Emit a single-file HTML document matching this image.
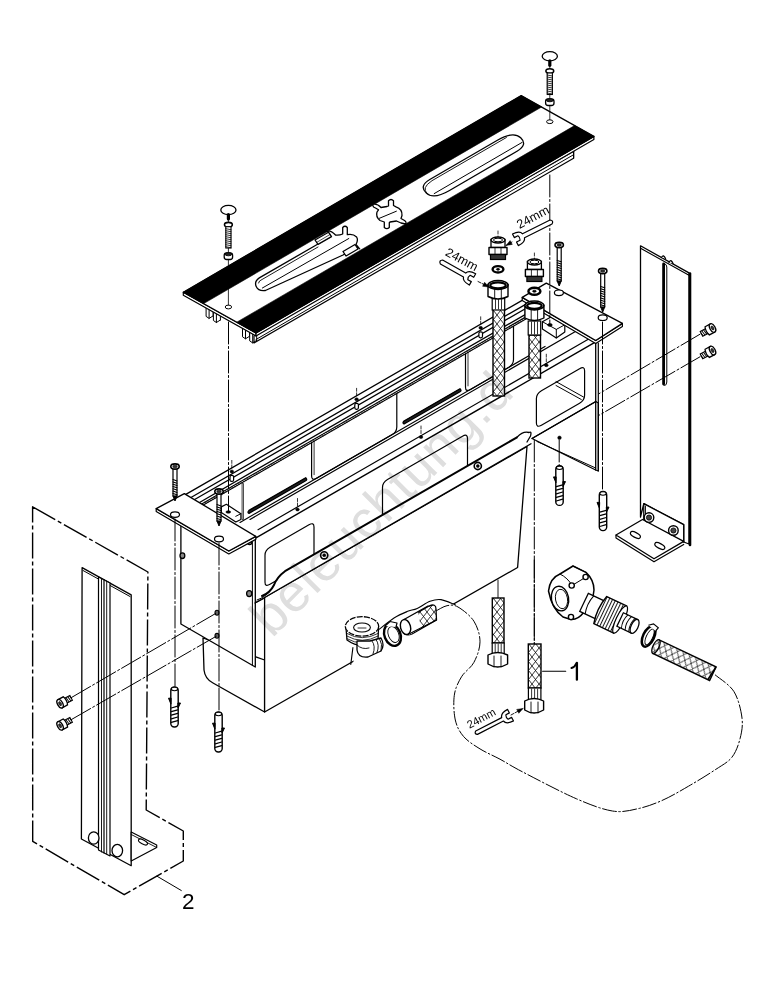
<!DOCTYPE html><html><head><meta charset="utf-8"><style>html,body{margin:0;padding:0;background:#fff;}svg{display:block;}</style></head><body><svg width="777" height="1000" viewBox="0 0 777 1000" font-family="Liberation Sans, sans-serif">
<defs><pattern id="hatch" width="7" height="9" patternUnits="userSpaceOnUse"><rect width="7" height="9" fill="#fff"/><path d="M-0.7,-0.9 L7.7,9.9 M7.7,-0.9 L-0.7,9.9" stroke="#111" stroke-width="0.85"/></pattern><pattern id="vrib" width="3" height="3" patternUnits="userSpaceOnUse"><rect width="3" height="3" fill="#fff"/><path d="M1.5,0 L1.5,3" stroke="#000" stroke-width="0.9"/></pattern></defs>
<rect width="777" height="1000" fill="#fff"/>
<polygon points="32.6,506.8 147.9,572.0 146.2,810.0 183.3,831.0 183.3,861.0 124.2,894.7 32.7,841.4" fill="#fff" stroke="#000" stroke-width="1.4" stroke-linejoin="round" stroke-dasharray="26,3,4,3"/>
<polygon points="82.1,567.6 131.2,594.9 131.2,865.7 81.4,839.0" fill="#fff" stroke="#000" stroke-width="1.3" stroke-linejoin="round" />
<line x1="83.0" y1="570.5" x2="130.0" y2="596.5" stroke="#000" stroke-width="1.0" stroke-linecap="round" />
<polygon points="98.5,577.0 110.0,583.0 110.0,856.0 98.5,850.0" fill="#fff" stroke="#000" stroke-width="1.2" stroke-linejoin="round" />
<line x1="101.5" y1="579.0" x2="101.5" y2="852.0" stroke="#000" stroke-width="0.9" stroke-linecap="round" />
<line x1="104.0" y1="580.0" x2="104.0" y2="853.0" stroke="#000" stroke-width="1.2" stroke-linecap="round" />
<line x1="106.7" y1="581.5" x2="106.7" y2="854.0" stroke="#000" stroke-width="0.9" stroke-linecap="round" />
<polygon points="131.2,832.0 156.7,845.0 156.7,847.5 131.2,861.0" fill="#fff" stroke="#000" stroke-width="1.2" stroke-linejoin="round" />
<line x1="131.2" y1="834.5" x2="156.7" y2="847.5" stroke="#000" stroke-width="0.9" stroke-linecap="round" />
<ellipse cx="143.0" cy="842.0" rx="5.0" ry="2.0" fill="#fff" stroke="#000" stroke-width="1.1" transform="rotate(28 143 842)"/>
<ellipse cx="93.7" cy="838.0" rx="5.3" ry="6.2" fill="#fff" stroke="#000" stroke-width="1.3" />
<ellipse cx="117.3" cy="850.6" rx="5.3" ry="6.2" fill="#fff" stroke="#000" stroke-width="1.3" />
<g transform="translate(60.1,703.7) rotate(-28)">
<path d="M6,-2.7 L12.5,-2.7 L12.5,2.7 L6,2.7 Z" fill="#fff" stroke="#000" stroke-width="1.1"/>
<path d="M8,-2.7 L8.8,2.7 M10,-2.7 L10.8,2.7 M12,-2.7 L12.5,1" fill="none" stroke="#000" stroke-width="0.9"/>
<path d="M0,-4.6 L6,-4.6 Q8,0 6,4.6 L0,4.6 Z" fill="#fff" stroke="#000" stroke-width="1.3"/>
<ellipse cx="0" cy="0" rx="2.6" ry="4.6" fill="#fff" stroke="#000" stroke-width="1.4"/>
<ellipse cx="0" cy="0" rx="1.2" ry="2.2" fill="#333" stroke="#000" stroke-width="0.6"/>
</g>
<g transform="translate(60.1,725.8) rotate(-28)">
<path d="M6,-2.7 L12.5,-2.7 L12.5,2.7 L6,2.7 Z" fill="#fff" stroke="#000" stroke-width="1.1"/>
<path d="M8,-2.7 L8.8,2.7 M10,-2.7 L10.8,2.7 M12,-2.7 L12.5,1" fill="none" stroke="#000" stroke-width="0.9"/>
<path d="M0,-4.6 L6,-4.6 Q8,0 6,4.6 L0,4.6 Z" fill="#fff" stroke="#000" stroke-width="1.3"/>
<ellipse cx="0" cy="0" rx="2.6" ry="4.6" fill="#fff" stroke="#000" stroke-width="1.4"/>
<ellipse cx="0" cy="0" rx="1.2" ry="2.2" fill="#333" stroke="#000" stroke-width="0.6"/>
</g>
<line x1="157.0" y1="876.2" x2="181.3" y2="890.5" stroke="#000" stroke-width="1.0" stroke-linecap="round" />
<text x="182" y="909" font-size="22.5" fill="#000" text-anchor="start" >2</text>
<path d="M203,638 L204,670 Q205,679 213,683 L264.6,712 L264.6,660 Z" fill="#fff" stroke="#000" stroke-width="1.3" stroke-linejoin="round" stroke-linecap="round" />
<polygon points="255.0,603.0 527.0,446.5 517.6,567.5 264.6,712.0 264.6,598.0" fill="#fff" stroke="#000" stroke-width="1.3" stroke-linejoin="round" />
<polygon points="180.9,521.0 255.3,537.0 255.3,667.0 180.9,624.0" fill="#fff" stroke="#000" stroke-width="1.3" stroke-linejoin="round" />
<line x1="252.4" y1="540.0" x2="252.4" y2="665.0" stroke="#000" stroke-width="1.0" stroke-linecap="round" />
<ellipse cx="182.4" cy="555.7" rx="2.4" ry="2.8" fill="#888" stroke="#000" stroke-width="1.3" />
<ellipse cx="249.6" cy="542.5" rx="2.2" ry="2.2" fill="#888" stroke="#000" stroke-width="1.2" />
<ellipse cx="249.2" cy="593.6" rx="2.6" ry="3.0" fill="#888" stroke="#000" stroke-width="1.3" />
<ellipse cx="217.0" cy="612.7" rx="2.0" ry="2.4" fill="#666" stroke="#000" stroke-width="1.1" />
<ellipse cx="217.0" cy="635.8" rx="2.0" ry="2.4" fill="#666" stroke="#000" stroke-width="1.1" />
<polygon points="532.0,438.5 595.7,401.5 598.3,403.0 598.3,471.0 595.7,470.0" fill="#fff" stroke="#000" stroke-width="1.2" stroke-linejoin="round" />
<line x1="537.0" y1="441.5" x2="595.7" y2="468.0" stroke="#000" stroke-width="1.0" stroke-linecap="round" />
<ellipse cx="559.5" cy="437.8" rx="1.8" ry="1.8" fill="#000" stroke="#000" stroke-width="0.5" />
<line x1="185.4" y1="494.6" x2="525.2" y2="298.6" stroke="#000" stroke-width="1.3" stroke-linecap="round" />
<line x1="190.5" y1="497.7" x2="530.4" y2="301.6" stroke="#000" stroke-width="1.3" stroke-linecap="round" />
<line x1="194.2" y1="499.8" x2="534.0" y2="303.7" stroke="#000" stroke-width="1.3" stroke-linecap="round" />
<line x1="199.1" y1="502.7" x2="539.0" y2="306.6" stroke="#000" stroke-width="1.3" stroke-linecap="round" />
<line x1="200.0" y1="505.0" x2="541.0" y2="308.2" stroke="#000" stroke-width="1.1" stroke-linecap="round" />
<line x1="202.0" y1="505.8" x2="543.0" y2="309.1" stroke="#000" stroke-width="1.1" stroke-linecap="round" />
<g stroke="#000" stroke-width="0.6">
<line x1="205.0" y1="502.1" x2="206.5" y2="503.2" stroke="#000" stroke-width="0.6" stroke-linecap="round" />
<line x1="207.2" y1="500.8" x2="208.7" y2="502.0" stroke="#000" stroke-width="0.6" stroke-linecap="round" />
<line x1="209.4" y1="499.6" x2="210.9" y2="500.7" stroke="#000" stroke-width="0.6" stroke-linecap="round" />
<line x1="211.6" y1="498.3" x2="213.1" y2="499.4" stroke="#000" stroke-width="0.6" stroke-linecap="round" />
<line x1="213.8" y1="497.0" x2="215.3" y2="498.2" stroke="#000" stroke-width="0.6" stroke-linecap="round" />
<line x1="216.0" y1="495.8" x2="217.5" y2="496.9" stroke="#000" stroke-width="0.6" stroke-linecap="round" />
<line x1="218.2" y1="494.5" x2="219.7" y2="495.6" stroke="#000" stroke-width="0.6" stroke-linecap="round" />
<line x1="220.4" y1="493.2" x2="221.9" y2="494.4" stroke="#000" stroke-width="0.6" stroke-linecap="round" />
<line x1="222.6" y1="492.0" x2="224.1" y2="493.1" stroke="#000" stroke-width="0.6" stroke-linecap="round" />
<line x1="224.8" y1="490.7" x2="226.3" y2="491.8" stroke="#000" stroke-width="0.6" stroke-linecap="round" />
<line x1="227.0" y1="489.4" x2="228.5" y2="490.6" stroke="#000" stroke-width="0.6" stroke-linecap="round" />
<line x1="229.2" y1="488.2" x2="230.7" y2="489.3" stroke="#000" stroke-width="0.6" stroke-linecap="round" />
<line x1="231.4" y1="486.9" x2="232.9" y2="488.0" stroke="#000" stroke-width="0.6" stroke-linecap="round" />
<line x1="233.6" y1="485.6" x2="235.1" y2="486.7" stroke="#000" stroke-width="0.6" stroke-linecap="round" />
<line x1="235.8" y1="484.3" x2="237.3" y2="485.5" stroke="#000" stroke-width="0.6" stroke-linecap="round" />
<line x1="238.0" y1="483.1" x2="239.5" y2="484.2" stroke="#000" stroke-width="0.6" stroke-linecap="round" />
<line x1="240.2" y1="481.8" x2="241.7" y2="482.9" stroke="#000" stroke-width="0.6" stroke-linecap="round" />
<line x1="242.4" y1="480.5" x2="243.9" y2="481.7" stroke="#000" stroke-width="0.6" stroke-linecap="round" />
<line x1="244.6" y1="479.3" x2="246.1" y2="480.4" stroke="#000" stroke-width="0.6" stroke-linecap="round" />
<line x1="246.8" y1="478.0" x2="248.3" y2="479.1" stroke="#000" stroke-width="0.6" stroke-linecap="round" />
<line x1="249.0" y1="476.7" x2="250.5" y2="477.9" stroke="#000" stroke-width="0.6" stroke-linecap="round" />
<line x1="251.2" y1="475.5" x2="252.7" y2="476.6" stroke="#000" stroke-width="0.6" stroke-linecap="round" />
<line x1="253.4" y1="474.2" x2="254.9" y2="475.3" stroke="#000" stroke-width="0.6" stroke-linecap="round" />
<line x1="255.6" y1="472.9" x2="257.1" y2="474.1" stroke="#000" stroke-width="0.6" stroke-linecap="round" />
<line x1="257.8" y1="471.6" x2="259.3" y2="472.8" stroke="#000" stroke-width="0.6" stroke-linecap="round" />
<line x1="260.0" y1="470.4" x2="261.5" y2="471.5" stroke="#000" stroke-width="0.6" stroke-linecap="round" />
<line x1="262.2" y1="469.1" x2="263.7" y2="470.2" stroke="#000" stroke-width="0.6" stroke-linecap="round" />
<line x1="264.4" y1="467.8" x2="265.9" y2="469.0" stroke="#000" stroke-width="0.6" stroke-linecap="round" />
<line x1="266.6" y1="466.6" x2="268.1" y2="467.7" stroke="#000" stroke-width="0.6" stroke-linecap="round" />
<line x1="268.8" y1="465.3" x2="270.3" y2="466.4" stroke="#000" stroke-width="0.6" stroke-linecap="round" />
<line x1="271.0" y1="464.0" x2="272.5" y2="465.2" stroke="#000" stroke-width="0.6" stroke-linecap="round" />
<line x1="273.2" y1="462.8" x2="274.7" y2="463.9" stroke="#000" stroke-width="0.6" stroke-linecap="round" />
<line x1="275.4" y1="461.5" x2="276.9" y2="462.6" stroke="#000" stroke-width="0.6" stroke-linecap="round" />
<line x1="277.6" y1="460.2" x2="279.1" y2="461.4" stroke="#000" stroke-width="0.6" stroke-linecap="round" />
<line x1="279.8" y1="459.0" x2="281.3" y2="460.1" stroke="#000" stroke-width="0.6" stroke-linecap="round" />
<line x1="282.0" y1="457.7" x2="283.5" y2="458.8" stroke="#000" stroke-width="0.6" stroke-linecap="round" />
<line x1="284.2" y1="456.4" x2="285.7" y2="457.6" stroke="#000" stroke-width="0.6" stroke-linecap="round" />
<line x1="286.4" y1="455.1" x2="287.9" y2="456.3" stroke="#000" stroke-width="0.6" stroke-linecap="round" />
<line x1="288.6" y1="453.9" x2="290.1" y2="455.0" stroke="#000" stroke-width="0.6" stroke-linecap="round" />
<line x1="290.8" y1="452.6" x2="292.3" y2="453.7" stroke="#000" stroke-width="0.6" stroke-linecap="round" />
<line x1="293.0" y1="451.3" x2="294.5" y2="452.5" stroke="#000" stroke-width="0.6" stroke-linecap="round" />
<line x1="295.2" y1="450.1" x2="296.7" y2="451.2" stroke="#000" stroke-width="0.6" stroke-linecap="round" />
<line x1="297.4" y1="448.8" x2="298.9" y2="449.9" stroke="#000" stroke-width="0.6" stroke-linecap="round" />
<line x1="299.6" y1="447.5" x2="301.1" y2="448.7" stroke="#000" stroke-width="0.6" stroke-linecap="round" />
<line x1="301.8" y1="446.3" x2="303.3" y2="447.4" stroke="#000" stroke-width="0.6" stroke-linecap="round" />
<line x1="304.0" y1="445.0" x2="305.5" y2="446.1" stroke="#000" stroke-width="0.6" stroke-linecap="round" />
<line x1="306.2" y1="443.7" x2="307.7" y2="444.9" stroke="#000" stroke-width="0.6" stroke-linecap="round" />
<line x1="308.4" y1="442.5" x2="309.9" y2="443.6" stroke="#000" stroke-width="0.6" stroke-linecap="round" />
<line x1="310.6" y1="441.2" x2="312.1" y2="442.3" stroke="#000" stroke-width="0.6" stroke-linecap="round" />
<line x1="312.8" y1="439.9" x2="314.3" y2="441.0" stroke="#000" stroke-width="0.6" stroke-linecap="round" />
<line x1="315.0" y1="438.6" x2="316.5" y2="439.8" stroke="#000" stroke-width="0.6" stroke-linecap="round" />
<line x1="317.2" y1="437.4" x2="318.7" y2="438.5" stroke="#000" stroke-width="0.6" stroke-linecap="round" />
<line x1="319.4" y1="436.1" x2="320.9" y2="437.2" stroke="#000" stroke-width="0.6" stroke-linecap="round" />
<line x1="321.6" y1="434.8" x2="323.1" y2="436.0" stroke="#000" stroke-width="0.6" stroke-linecap="round" />
<line x1="323.8" y1="433.6" x2="325.3" y2="434.7" stroke="#000" stroke-width="0.6" stroke-linecap="round" />
<line x1="326.0" y1="432.3" x2="327.5" y2="433.4" stroke="#000" stroke-width="0.6" stroke-linecap="round" />
<line x1="328.2" y1="431.0" x2="329.7" y2="432.2" stroke="#000" stroke-width="0.6" stroke-linecap="round" />
<line x1="330.4" y1="429.8" x2="331.9" y2="430.9" stroke="#000" stroke-width="0.6" stroke-linecap="round" />
<line x1="332.6" y1="428.5" x2="334.1" y2="429.6" stroke="#000" stroke-width="0.6" stroke-linecap="round" />
<line x1="334.8" y1="427.2" x2="336.3" y2="428.4" stroke="#000" stroke-width="0.6" stroke-linecap="round" />
<line x1="337.0" y1="426.0" x2="338.5" y2="427.1" stroke="#000" stroke-width="0.6" stroke-linecap="round" />
<line x1="339.2" y1="424.7" x2="340.7" y2="425.8" stroke="#000" stroke-width="0.6" stroke-linecap="round" />
<line x1="341.4" y1="423.4" x2="342.9" y2="424.5" stroke="#000" stroke-width="0.6" stroke-linecap="round" />
<line x1="343.6" y1="422.1" x2="345.1" y2="423.3" stroke="#000" stroke-width="0.6" stroke-linecap="round" />
<line x1="345.8" y1="420.9" x2="347.3" y2="422.0" stroke="#000" stroke-width="0.6" stroke-linecap="round" />
<line x1="348.0" y1="419.6" x2="349.5" y2="420.7" stroke="#000" stroke-width="0.6" stroke-linecap="round" />
<line x1="350.2" y1="418.3" x2="351.7" y2="419.5" stroke="#000" stroke-width="0.6" stroke-linecap="round" />
<line x1="352.4" y1="417.1" x2="353.9" y2="418.2" stroke="#000" stroke-width="0.6" stroke-linecap="round" />
<line x1="354.6" y1="415.8" x2="356.1" y2="416.9" stroke="#000" stroke-width="0.6" stroke-linecap="round" />
<line x1="356.8" y1="414.5" x2="358.3" y2="415.7" stroke="#000" stroke-width="0.6" stroke-linecap="round" />
<line x1="359.0" y1="413.3" x2="360.5" y2="414.4" stroke="#000" stroke-width="0.6" stroke-linecap="round" />
<line x1="361.2" y1="412.0" x2="362.7" y2="413.1" stroke="#000" stroke-width="0.6" stroke-linecap="round" />
<line x1="363.4" y1="410.7" x2="364.9" y2="411.9" stroke="#000" stroke-width="0.6" stroke-linecap="round" />
<line x1="365.6" y1="409.4" x2="367.1" y2="410.6" stroke="#000" stroke-width="0.6" stroke-linecap="round" />
<line x1="367.8" y1="408.2" x2="369.3" y2="409.3" stroke="#000" stroke-width="0.6" stroke-linecap="round" />
<line x1="370.0" y1="406.9" x2="371.5" y2="408.0" stroke="#000" stroke-width="0.6" stroke-linecap="round" />
<line x1="372.2" y1="405.6" x2="373.7" y2="406.8" stroke="#000" stroke-width="0.6" stroke-linecap="round" />
<line x1="374.4" y1="404.4" x2="375.9" y2="405.5" stroke="#000" stroke-width="0.6" stroke-linecap="round" />
<line x1="376.6" y1="403.1" x2="378.1" y2="404.2" stroke="#000" stroke-width="0.6" stroke-linecap="round" />
<line x1="378.8" y1="401.8" x2="380.3" y2="403.0" stroke="#000" stroke-width="0.6" stroke-linecap="round" />
<line x1="381.0" y1="400.6" x2="382.5" y2="401.7" stroke="#000" stroke-width="0.6" stroke-linecap="round" />
<line x1="383.2" y1="399.3" x2="384.7" y2="400.4" stroke="#000" stroke-width="0.6" stroke-linecap="round" />
<line x1="385.4" y1="398.0" x2="386.9" y2="399.2" stroke="#000" stroke-width="0.6" stroke-linecap="round" />
<line x1="387.6" y1="396.8" x2="389.1" y2="397.9" stroke="#000" stroke-width="0.6" stroke-linecap="round" />
<line x1="389.8" y1="395.5" x2="391.3" y2="396.6" stroke="#000" stroke-width="0.6" stroke-linecap="round" />
<line x1="392.0" y1="394.2" x2="393.5" y2="395.4" stroke="#000" stroke-width="0.6" stroke-linecap="round" />
<line x1="394.2" y1="392.9" x2="395.7" y2="394.1" stroke="#000" stroke-width="0.6" stroke-linecap="round" />
<line x1="396.4" y1="391.7" x2="397.9" y2="392.8" stroke="#000" stroke-width="0.6" stroke-linecap="round" />
<line x1="398.6" y1="390.4" x2="400.1" y2="391.5" stroke="#000" stroke-width="0.6" stroke-linecap="round" />
<line x1="400.8" y1="389.1" x2="402.3" y2="390.3" stroke="#000" stroke-width="0.6" stroke-linecap="round" />
<line x1="403.0" y1="387.9" x2="404.5" y2="389.0" stroke="#000" stroke-width="0.6" stroke-linecap="round" />
<line x1="405.2" y1="386.6" x2="406.7" y2="387.7" stroke="#000" stroke-width="0.6" stroke-linecap="round" />
<line x1="407.4" y1="385.3" x2="408.9" y2="386.5" stroke="#000" stroke-width="0.6" stroke-linecap="round" />
<line x1="409.6" y1="384.1" x2="411.1" y2="385.2" stroke="#000" stroke-width="0.6" stroke-linecap="round" />
<line x1="411.8" y1="382.8" x2="413.3" y2="383.9" stroke="#000" stroke-width="0.6" stroke-linecap="round" />
<line x1="414.0" y1="381.5" x2="415.5" y2="382.7" stroke="#000" stroke-width="0.6" stroke-linecap="round" />
<line x1="416.2" y1="380.3" x2="417.7" y2="381.4" stroke="#000" stroke-width="0.6" stroke-linecap="round" />
<line x1="418.4" y1="379.0" x2="419.9" y2="380.1" stroke="#000" stroke-width="0.6" stroke-linecap="round" />
<line x1="420.6" y1="377.7" x2="422.1" y2="378.8" stroke="#000" stroke-width="0.6" stroke-linecap="round" />
<line x1="422.8" y1="376.4" x2="424.3" y2="377.6" stroke="#000" stroke-width="0.6" stroke-linecap="round" />
<line x1="425.0" y1="375.2" x2="426.5" y2="376.3" stroke="#000" stroke-width="0.6" stroke-linecap="round" />
<line x1="427.2" y1="373.9" x2="428.7" y2="375.0" stroke="#000" stroke-width="0.6" stroke-linecap="round" />
<line x1="429.4" y1="372.6" x2="430.9" y2="373.8" stroke="#000" stroke-width="0.6" stroke-linecap="round" />
<line x1="431.6" y1="371.4" x2="433.1" y2="372.5" stroke="#000" stroke-width="0.6" stroke-linecap="round" />
<line x1="433.8" y1="370.1" x2="435.3" y2="371.2" stroke="#000" stroke-width="0.6" stroke-linecap="round" />
<line x1="436.0" y1="368.8" x2="437.5" y2="370.0" stroke="#000" stroke-width="0.6" stroke-linecap="round" />
<line x1="438.2" y1="367.6" x2="439.7" y2="368.7" stroke="#000" stroke-width="0.6" stroke-linecap="round" />
<line x1="440.4" y1="366.3" x2="441.9" y2="367.4" stroke="#000" stroke-width="0.6" stroke-linecap="round" />
<line x1="442.6" y1="365.0" x2="444.1" y2="366.2" stroke="#000" stroke-width="0.6" stroke-linecap="round" />
<line x1="444.8" y1="363.8" x2="446.3" y2="364.9" stroke="#000" stroke-width="0.6" stroke-linecap="round" />
<line x1="447.0" y1="362.5" x2="448.5" y2="363.6" stroke="#000" stroke-width="0.6" stroke-linecap="round" />
<line x1="449.2" y1="361.2" x2="450.7" y2="362.3" stroke="#000" stroke-width="0.6" stroke-linecap="round" />
<line x1="451.4" y1="359.9" x2="452.9" y2="361.1" stroke="#000" stroke-width="0.6" stroke-linecap="round" />
<line x1="453.6" y1="358.7" x2="455.1" y2="359.8" stroke="#000" stroke-width="0.6" stroke-linecap="round" />
<line x1="455.8" y1="357.4" x2="457.3" y2="358.5" stroke="#000" stroke-width="0.6" stroke-linecap="round" />
<line x1="458.0" y1="356.1" x2="459.5" y2="357.3" stroke="#000" stroke-width="0.6" stroke-linecap="round" />
<line x1="460.2" y1="354.9" x2="461.7" y2="356.0" stroke="#000" stroke-width="0.6" stroke-linecap="round" />
<line x1="462.4" y1="353.6" x2="463.9" y2="354.7" stroke="#000" stroke-width="0.6" stroke-linecap="round" />
<line x1="464.6" y1="352.3" x2="466.1" y2="353.5" stroke="#000" stroke-width="0.6" stroke-linecap="round" />
<line x1="466.8" y1="351.1" x2="468.3" y2="352.2" stroke="#000" stroke-width="0.6" stroke-linecap="round" />
<line x1="469.0" y1="349.8" x2="470.5" y2="350.9" stroke="#000" stroke-width="0.6" stroke-linecap="round" />
<line x1="471.2" y1="348.5" x2="472.7" y2="349.7" stroke="#000" stroke-width="0.6" stroke-linecap="round" />
<line x1="473.4" y1="347.2" x2="474.9" y2="348.4" stroke="#000" stroke-width="0.6" stroke-linecap="round" />
<line x1="475.6" y1="346.0" x2="477.1" y2="347.1" stroke="#000" stroke-width="0.6" stroke-linecap="round" />
<line x1="477.8" y1="344.7" x2="479.3" y2="345.8" stroke="#000" stroke-width="0.6" stroke-linecap="round" />
<line x1="480.0" y1="343.4" x2="481.5" y2="344.6" stroke="#000" stroke-width="0.6" stroke-linecap="round" />
<line x1="482.2" y1="342.2" x2="483.7" y2="343.3" stroke="#000" stroke-width="0.6" stroke-linecap="round" />
<line x1="484.4" y1="340.9" x2="485.9" y2="342.0" stroke="#000" stroke-width="0.6" stroke-linecap="round" />
<line x1="486.6" y1="339.6" x2="488.1" y2="340.8" stroke="#000" stroke-width="0.6" stroke-linecap="round" />
<line x1="488.8" y1="338.4" x2="490.3" y2="339.5" stroke="#000" stroke-width="0.6" stroke-linecap="round" />
<line x1="491.0" y1="337.1" x2="492.5" y2="338.2" stroke="#000" stroke-width="0.6" stroke-linecap="round" />
<line x1="493.2" y1="335.8" x2="494.7" y2="337.0" stroke="#000" stroke-width="0.6" stroke-linecap="round" />
<line x1="495.4" y1="334.6" x2="496.9" y2="335.7" stroke="#000" stroke-width="0.6" stroke-linecap="round" />
<line x1="497.6" y1="333.3" x2="499.1" y2="334.4" stroke="#000" stroke-width="0.6" stroke-linecap="round" />
<line x1="499.8" y1="332.0" x2="501.3" y2="333.1" stroke="#000" stroke-width="0.6" stroke-linecap="round" />
<line x1="502.0" y1="330.7" x2="503.5" y2="331.9" stroke="#000" stroke-width="0.6" stroke-linecap="round" />
<line x1="504.2" y1="329.5" x2="505.7" y2="330.6" stroke="#000" stroke-width="0.6" stroke-linecap="round" />
<line x1="506.4" y1="328.2" x2="507.9" y2="329.3" stroke="#000" stroke-width="0.6" stroke-linecap="round" />
<line x1="508.6" y1="326.9" x2="510.1" y2="328.1" stroke="#000" stroke-width="0.6" stroke-linecap="round" />
<line x1="510.8" y1="325.7" x2="512.3" y2="326.8" stroke="#000" stroke-width="0.6" stroke-linecap="round" />
<line x1="513.0" y1="324.4" x2="514.5" y2="325.5" stroke="#000" stroke-width="0.6" stroke-linecap="round" />
<line x1="515.2" y1="323.1" x2="516.7" y2="324.3" stroke="#000" stroke-width="0.6" stroke-linecap="round" />
<line x1="517.4" y1="321.9" x2="518.9" y2="323.0" stroke="#000" stroke-width="0.6" stroke-linecap="round" />
<line x1="519.6" y1="320.6" x2="521.1" y2="321.7" stroke="#000" stroke-width="0.6" stroke-linecap="round" />
<line x1="521.8" y1="319.3" x2="523.3" y2="320.5" stroke="#000" stroke-width="0.6" stroke-linecap="round" />
<line x1="524.0" y1="318.1" x2="525.5" y2="319.2" stroke="#000" stroke-width="0.6" stroke-linecap="round" />
<line x1="526.2" y1="316.8" x2="527.7" y2="317.9" stroke="#000" stroke-width="0.6" stroke-linecap="round" />
<line x1="528.4" y1="315.5" x2="529.9" y2="316.6" stroke="#000" stroke-width="0.6" stroke-linecap="round" />
<line x1="530.6" y1="314.2" x2="532.1" y2="315.4" stroke="#000" stroke-width="0.6" stroke-linecap="round" />
<line x1="532.8" y1="313.0" x2="534.3" y2="314.1" stroke="#000" stroke-width="0.6" stroke-linecap="round" />
<line x1="535.0" y1="311.7" x2="536.5" y2="312.8" stroke="#000" stroke-width="0.6" stroke-linecap="round" />
<line x1="537.2" y1="310.4" x2="538.7" y2="311.6" stroke="#000" stroke-width="0.6" stroke-linecap="round" />
<line x1="539.4" y1="309.2" x2="540.9" y2="310.3" stroke="#000" stroke-width="0.6" stroke-linecap="round" />
</g>
<path d="M311.6,442.8 L311.6,476.1 Q311.6,481.1 316.6,478.2 L391.8,434.8 Q396.8,431.9 396.8,426.9 L396.8,393.6" fill="none" stroke="#000" stroke-width="1.2" stroke-linejoin="round" stroke-linecap="round" />
<line x1="314.1" y1="441.4" x2="314.1" y2="474.7" stroke="#000" stroke-width="0.8" stroke-linecap="round" />
<path d="M465.5,354.0 L465.5,387.3 Q465.5,392.3 470.5,389.4 L508.5,367.5 Q513.5,364.6 513.5,359.6 L513.5,326.3" fill="none" stroke="#000" stroke-width="1.2" stroke-linejoin="round" stroke-linecap="round" />
<line x1="468.0" y1="352.6" x2="468.0" y2="385.9" stroke="#000" stroke-width="0.8" stroke-linecap="round" />
<line x1="242.8" y1="484.0" x2="242.8" y2="519.0" stroke="#000" stroke-width="2.2" stroke-linecap="round" />
<line x1="242.8" y1="484.0" x2="242.8" y2="519.0" stroke="#fff" stroke-width="0.8" stroke-linecap="round" />
<polygon points="221.3,506.9 226.4,504.3 240.9,513.7 240.9,519.5 235.8,522.0 221.3,512.5" fill="#fff" stroke="#000" stroke-width="1.2" stroke-linejoin="round" />
<line x1="235.8" y1="516.3" x2="240.9" y2="513.7" stroke="#000" stroke-width="1.0" stroke-linecap="round" />
<line x1="235.8" y1="516.3" x2="221.3" y2="506.9" stroke="#000" stroke-width="0" stroke-linecap="round" />
<ellipse cx="228.3" cy="512.0" rx="2.4" ry="1.3" fill="#000" stroke="#000" stroke-width="0.5" />
<line x1="240.0" y1="522.4" x2="545.0" y2="346.4" stroke="#000" stroke-width="1.2" stroke-linecap="round" />
<line x1="250.0" y1="519.4" x2="575.0" y2="331.8" stroke="#000" stroke-width="1.2" stroke-linecap="round" />
<path d="M249.0,513.4 L305.7,480.7 Q307.7,479.7 305.7,477.7 L249.0,510.4 Q247.0,512.4 249.0,513.4 Z" fill="#222" stroke="#000" stroke-width="1.3" stroke-linejoin="round" stroke-linecap="round" />
<line x1="250.0" y1="510.2" x2="304.7" y2="478.6" stroke="#000" stroke-width="0.7" stroke-linecap="round" stroke="#fff"/>
<path d="M404.0,424.0 L460.0,391.7 Q462.0,390.7 460.0,388.7 L404.0,421.0 Q402.0,423.0 404.0,424.0 Z" fill="#222" stroke="#000" stroke-width="1.3" stroke-linejoin="round" stroke-linecap="round" />
<line x1="405.0" y1="420.7" x2="459.0" y2="389.6" stroke="#000" stroke-width="0.7" stroke-linecap="round" stroke="#fff"/>
<line x1="258.0" y1="529.7" x2="590.0" y2="338.2" stroke="#000" stroke-width="1.2" stroke-linecap="round" />
<line x1="254.7" y1="538.6" x2="595.7" y2="341.9" stroke="#000" stroke-width="1.4" stroke-linecap="round" />
<path d="M265.0,555.2 Q265.0,550.2 270.0,547.3 L309.0,524.8 Q314.0,521.9 314.0,526.9 L314.0,553.9 Q314.0,558.9 309.0,561.8 L270.0,584.3 Q265.0,587.2 265.0,582.2 Z" fill="none" stroke="#000" stroke-width="1.2" stroke-linejoin="round" stroke-linecap="round" />
<path d="M382.5,487.4 Q382.5,482.4 387.5,479.5 L462.5,436.2 Q467.5,433.4 467.5,438.4 L467.5,465.4 Q467.5,470.4 462.5,473.2 L387.5,516.5 Q382.5,519.4 382.5,514.4 Z" fill="none" stroke="#000" stroke-width="1.2" stroke-linejoin="round" stroke-linecap="round" />
<path d="M536.4,398.6 Q536.4,393.6 541.4,390.7 L579.6,368.7 Q584.6,365.8 584.6,370.8 L584.6,395.3 Q584.6,400.3 579.6,403.2 L541.4,425.2 Q536.4,428.1 536.4,423.1 Z" fill="none" stroke="#000" stroke-width="1.2" stroke-linejoin="round" stroke-linecap="round" />
<line x1="556.0" y1="381.6" x2="583.5" y2="397.0" stroke="#000" stroke-width="1.0" stroke-linecap="round" />
<line x1="556.0" y1="385.5" x2="581.3" y2="399.5" stroke="#000" stroke-width="1.0" stroke-linecap="round" />
<line x1="595.7" y1="340.5" x2="595.7" y2="470.0" stroke="#000" stroke-width="1.3" stroke-linecap="round" />
<line x1="598.3" y1="343.0" x2="598.3" y2="471.0" stroke="#000" stroke-width="1.2" stroke-linecap="round" />
<line x1="532.0" y1="438.5" x2="596.0" y2="401.5" stroke="#000" stroke-width="1.2" stroke-linecap="round" />
<line x1="297.5" y1="498.5" x2="297.5" y2="507.5" stroke="#000" stroke-width="0.8" stroke-linecap="round" stroke-dasharray="3,1.5"/>
<ellipse cx="297.5" cy="509.5" rx="1.8" ry="1.5" fill="#000" stroke="#000" stroke-width="0.5" />
<line x1="421.0" y1="426.0" x2="421.0" y2="435.0" stroke="#000" stroke-width="0.8" stroke-linecap="round" stroke-dasharray="3,1.5"/>
<ellipse cx="421.0" cy="437.0" rx="1.8" ry="1.5" fill="#000" stroke="#000" stroke-width="0.5" />
<line x1="546.3" y1="354.2" x2="546.3" y2="363.2" stroke="#000" stroke-width="0.8" stroke-linecap="round" stroke-dasharray="3,1.5"/>
<ellipse cx="546.3" cy="365.2" rx="1.8" ry="1.5" fill="#000" stroke="#000" stroke-width="0.5" />
<line x1="231.8" y1="460.4" x2="231.8" y2="469.4" stroke="#000" stroke-width="0.8" stroke-linecap="round" stroke-dasharray="3,1.5"/>
<ellipse cx="231.8" cy="471.4" rx="1.8" ry="1.5" fill="#000" stroke="#000" stroke-width="0.5" />
<rect x="230.0" y="475.4" width="3.6" height="6" rx="1.5" fill="#fff" stroke="#000" stroke-width="1.2"/>
<line x1="356.6" y1="388.3" x2="356.6" y2="397.3" stroke="#000" stroke-width="0.8" stroke-linecap="round" stroke-dasharray="3,1.5"/>
<ellipse cx="356.6" cy="399.3" rx="1.8" ry="1.5" fill="#000" stroke="#000" stroke-width="0.5" />
<rect x="354.8" y="403.3" width="3.6" height="6" rx="1.5" fill="#fff" stroke="#000" stroke-width="1.2"/>
<line x1="480.7" y1="316.8" x2="480.7" y2="325.8" stroke="#000" stroke-width="0.8" stroke-linecap="round" stroke-dasharray="3,1.5"/>
<ellipse cx="480.7" cy="327.8" rx="1.8" ry="1.5" fill="#000" stroke="#000" stroke-width="0.5" />
<rect x="478.9" y="331.8" width="3.6" height="6" rx="1.5" fill="#fff" stroke="#000" stroke-width="1.2"/>
<polygon points="255.0,603.0 262.0,597.0 268.5,592.0 276.0,583.0 281.0,573.5 517.0,437.3 531.0,443.7 255.0,603.0" fill="#fff" stroke="#000" stroke-width="0" stroke-linejoin="round" />
<path d="M262,596 Q270,593 274,585 Q277,577 285.0,571.2 L517.0,437.3" fill="none" stroke="#000" stroke-width="2.0" stroke-linejoin="round" stroke-linecap="round" />
<path d="M257,600 Q266,597 270,590" fill="none" stroke="#000" stroke-width="1" stroke-linejoin="round" stroke-linecap="round" />
<path d="M517.0,437.3 Q523.0,430.8 529,432.5 Q532,431 530.5,436 L527,442" fill="#fff" stroke="#000" stroke-width="1.3" stroke-linejoin="round" stroke-linecap="round" />
<line x1="255.0" y1="603.0" x2="531.0" y2="443.7" stroke="#000" stroke-width="1.3" stroke-linecap="round" />
<ellipse cx="324.2" cy="555.3" rx="3.6" ry="3.6" fill="#fff" stroke="#000" stroke-width="1.6" />
<ellipse cx="324.2" cy="555.3" rx="1.5" ry="1.5" fill="#000" stroke="#000" stroke-width="0.5" />
<ellipse cx="477.8" cy="466.0" rx="3.6" ry="3.6" fill="#fff" stroke="#000" stroke-width="1.6" />
<ellipse cx="477.8" cy="466.0" rx="1.5" ry="1.5" fill="#000" stroke="#000" stroke-width="0.5" />
<polygon points="156.2,508.6 156.2,511.6 228.8,554.0 255.8,539.4 255.8,536.4 228.8,551.0" fill="#fff" stroke="#000" stroke-width="1.2" stroke-linejoin="round" />
<polygon points="156.2,508.6 184.3,493.6 255.8,536.4 228.8,551.0" fill="#fff" stroke="#000" stroke-width="1.3" stroke-linejoin="round" />
<ellipse cx="175.0" cy="514.6" rx="4.5" ry="2.8" fill="#fff" stroke="#000" stroke-width="1.2" />
<ellipse cx="219.0" cy="539.0" rx="4.5" ry="2.8" fill="#fff" stroke="#000" stroke-width="1.2" />
<polygon points="542.4,321.7 551.0,317.0 564.8,324.8 564.8,332.0 556.3,338.0 542.4,329.0" fill="#fff" stroke="#000" stroke-width="1.2" stroke-linejoin="round" />
<polyline points="542.4,321.7 556.3,329.4 564.8,324.8" fill="none" stroke="#000" stroke-width="1.0" stroke-linejoin="round" stroke-linecap="round" />
<line x1="556.3" y1="329.4" x2="556.3" y2="338.0" stroke="#000" stroke-width="1.0" stroke-linecap="round" />
<ellipse cx="549.9" cy="325.0" rx="2.4" ry="1.4" fill="#000" stroke="#000" stroke-width="0.5" />
<polygon points="522.2,297.4 522.2,300.4 595.7,343.5 622.4,326.4 622.4,323.4 595.7,340.5" fill="#fff" stroke="#000" stroke-width="1.2" stroke-linejoin="round" />
<polygon points="522.2,297.4 546.3,283.1 622.4,323.4 595.7,340.5" fill="#fff" stroke="#000" stroke-width="1.3" stroke-linejoin="round" />
<ellipse cx="558.9" cy="292.8" rx="4.5" ry="2.8" fill="#fff" stroke="#000" stroke-width="1.2" />
<ellipse cx="602.7" cy="317.7" rx="4.5" ry="2.8" fill="#fff" stroke="#000" stroke-width="1.2" />
<polygon points="254.0,336.0 573.6,151.2 573.6,158.2 254.0,343.0" fill="#fff" stroke="#000" stroke-width="1.2" stroke-linejoin="round" />
<line x1="256.0" y1="339.5" x2="573.6" y2="154.7" stroke="#000" stroke-width="1" stroke-linecap="round" />
<polygon points="206.1,306.4 209.1,308.4 209.1,318.4 206.1,316.4" fill="#fff" stroke="#000" stroke-width="1" stroke-linejoin="round" />
<line x1="209.1" y1="318.4" x2="213.1" y2="315.9" stroke="#000" stroke-width="1" stroke-linecap="round" />
<line x1="209.1" y1="308.4" x2="213.1" y2="305.9" stroke="#000" stroke-width="1" stroke-linecap="round" />
<line x1="213.1" y1="305.9" x2="213.1" y2="315.9" stroke="#000" stroke-width="1" stroke-linecap="round" />
<polygon points="213.4,310.5 216.4,312.5 216.4,322.5 213.4,320.5" fill="#fff" stroke="#000" stroke-width="1" stroke-linejoin="round" />
<line x1="216.4" y1="322.5" x2="220.4" y2="320.0" stroke="#000" stroke-width="1" stroke-linecap="round" />
<line x1="216.4" y1="312.5" x2="220.4" y2="310.0" stroke="#000" stroke-width="1" stroke-linecap="round" />
<line x1="220.4" y1="310.0" x2="220.4" y2="320.0" stroke="#000" stroke-width="1" stroke-linecap="round" />
<polygon points="242.5,326.8 245.5,328.8 245.5,338.8 242.5,336.8" fill="#fff" stroke="#000" stroke-width="1" stroke-linejoin="round" />
<line x1="245.5" y1="338.8" x2="249.5" y2="336.3" stroke="#000" stroke-width="1" stroke-linecap="round" />
<line x1="245.5" y1="328.8" x2="249.5" y2="326.3" stroke="#000" stroke-width="1" stroke-linecap="round" />
<line x1="249.5" y1="326.3" x2="249.5" y2="336.3" stroke="#000" stroke-width="1" stroke-linecap="round" />
<polygon points="249.7,330.9 252.7,332.9 252.7,342.9 249.7,340.9" fill="#fff" stroke="#000" stroke-width="1" stroke-linejoin="round" />
<line x1="252.7" y1="342.9" x2="256.7" y2="340.4" stroke="#000" stroke-width="1" stroke-linecap="round" />
<line x1="252.7" y1="332.9" x2="256.7" y2="330.4" stroke="#000" stroke-width="1" stroke-linecap="round" />
<line x1="256.7" y1="330.4" x2="256.7" y2="340.4" stroke="#000" stroke-width="1" stroke-linecap="round" />
<line x1="573.6" y1="151.2" x2="573.6" y2="158.2" stroke="#000" stroke-width="1.1" stroke-linecap="round" />
<polygon points="183.3,292.2 256.0,333.0 256.0,336.0 183.3,295.2" fill="#fff" stroke="#000" stroke-width="1.2" stroke-linejoin="round" />
<polygon points="256.0,333.0 593.9,136.4 593.9,139.4 256.0,336.0" fill="#fff" stroke="#000" stroke-width="1.2" stroke-linejoin="round" />
<polygon points="183.3,292.2 521.2,95.6 593.9,136.4 256.0,333.0" fill="#fff" stroke="#000" stroke-width="1.3" stroke-linejoin="round" />
<polygon points="183.3,292.2 521.2,95.6 541.6,107.0 203.7,303.6" fill="#000" stroke="#000" stroke-width="0.6" stroke-linejoin="round" />
<polygon points="236.7,322.2 574.6,125.6 593.9,136.4 256.0,333.0" fill="#000" stroke="#000" stroke-width="0.6" stroke-linejoin="round" />
<path d="M429.8,179.5 L497.4,140.2 Q513.5,130.8 520.7,137.8 Q528.0,144.8 517.0,151.2 L449.5,190.5 Q433.4,199.9 426.1,192.9 Q418.9,185.9 429.8,179.5 Z" fill="#fff" stroke="#000" stroke-width="1.3" stroke-linejoin="round" stroke-linecap="round" />
<path d="M427.2,193.5 Q420.9,188.0 432.0,180.7 L506.4,137.5" fill="none" stroke="#000" stroke-width="0.9" stroke-linejoin="round" stroke-linecap="round" />
<path d="M434.2,193.6 L522.1,142.4" fill="none" stroke="#000" stroke-width="1" stroke-linejoin="round" stroke-linecap="round" />
<path d="M318,244 L259.3,277.9 Q254,281.5 256.2,286.5 Q258.5,291.5 265.4,290.5 L343,255 L356.6,247 L359.7,248.8 L356,244.5 Q358.5,240 356.6,237 Q353,233.5 347.3,234.7 L347.3,227.5 Q345,225 342.7,227.5 L342.7,234 Q339,235.5 335.5,235 Q331.5,230.5 327.2,230.8 L331,236.5 Z" fill="#fff" stroke="#000" stroke-width="1.3" stroke-linejoin="round" stroke-linecap="round" />
<line x1="262.4" y1="288.0" x2="348.8" y2="238.5" stroke="#000" stroke-width="1.0" stroke-linecap="round" />
<path d="M258.5,283 Q259,280.5 262,279.5 L318,247" fill="none" stroke="#000" stroke-width="0.9" stroke-linejoin="round" stroke-linecap="round" />
<polygon points="315.0,240.0 328.5,232.2 331.5,236.6 318.0,244.4" fill="#fff" stroke="#000" stroke-width="1.3" stroke-linejoin="round" />
<line x1="316.5" y1="242.5" x2="330.0" y2="234.5" stroke="#000" stroke-width="0.7" stroke-linecap="round" />
<polygon points="343.0,251.5 355.0,244.5 358.0,249.0 346.0,256.0" fill="#fff" stroke="#000" stroke-width="1.3" stroke-linejoin="round" />
<path d="M372.5,204.5 Q377,203 381,207.5 L387,206.5 L388.5,206 L388.5,200.8 Q391,198.2 393.5,200.8 L393.5,205.5 L396,206.8 Q402.5,209 402,215.5 L401,218.5 L404.5,220.5 Q407,222.5 405.5,224 L401,223 L396.5,221 L390,222 L389.3,222.8 L389.3,227.5 Q386.8,229.8 384.3,227.5 L384.3,222 L380,220.5 Q375.5,217 377,212 L378.5,209.8 Q375,207.5 373.5,207 Z" fill="#fff" stroke="#000" stroke-width="1.3" stroke-linejoin="round" stroke-linecap="round" />
<line x1="379.4" y1="218.3" x2="396.4" y2="211.2" stroke="#000" stroke-width="1.0" stroke-linecap="round" />
<ellipse cx="228.4" cy="307.0" rx="3.2" ry="1.9" fill="#fff" stroke="#000" stroke-width="1" />
<ellipse cx="549.8" cy="121.7" rx="3.2" ry="1.9" fill="#fff" stroke="#000" stroke-width="1" />
<line x1="228.4" y1="215.0" x2="228.4" y2="305.0" stroke="#000" stroke-width="0.8" stroke-linecap="round" />
<ellipse cx="228.4" cy="210.0" rx="7.6" ry="4.6" fill="#fff" stroke="#000" stroke-width="1.3" />
<line x1="228.4" y1="214.6" x2="228.4" y2="219.0" stroke="#000" stroke-width="3.2" stroke-linecap="round" />
<ellipse cx="228.4" cy="224.7" rx="3.9" ry="2.3" fill="#fff" stroke="#000" stroke-width="1.6" />
<rect x="225.8" y="226.7" width="5.2" height="21.3" fill="#fff" stroke="#000" stroke-width="1.1"/>
<line x1="225.8" y1="228.7" x2="231.0" y2="229.7" stroke="#000" stroke-width="0.8" stroke-linecap="round" />
<line x1="225.8" y1="230.7" x2="231.0" y2="231.7" stroke="#000" stroke-width="0.8" stroke-linecap="round" />
<line x1="225.8" y1="232.7" x2="231.0" y2="233.7" stroke="#000" stroke-width="0.8" stroke-linecap="round" />
<line x1="225.8" y1="234.7" x2="231.0" y2="235.7" stroke="#000" stroke-width="0.8" stroke-linecap="round" />
<line x1="225.8" y1="236.7" x2="231.0" y2="237.7" stroke="#000" stroke-width="0.8" stroke-linecap="round" />
<line x1="225.8" y1="238.7" x2="231.0" y2="239.7" stroke="#000" stroke-width="0.8" stroke-linecap="round" />
<line x1="225.8" y1="240.7" x2="231.0" y2="241.7" stroke="#000" stroke-width="0.8" stroke-linecap="round" />
<line x1="225.8" y1="242.7" x2="231.0" y2="243.7" stroke="#000" stroke-width="0.8" stroke-linecap="round" />
<line x1="225.8" y1="244.7" x2="231.0" y2="245.7" stroke="#000" stroke-width="0.8" stroke-linecap="round" />
<line x1="225.8" y1="246.7" x2="231.0" y2="247.7" stroke="#000" stroke-width="0.8" stroke-linecap="round" />
<rect x="224.2" y="253.0" width="8.4" height="6.5" rx="2.5" fill="#fff" stroke="#000" stroke-width="1.3"/>
<ellipse cx="228.4" cy="254.2" rx="3.4" ry="1.6" fill="#222" stroke="#000" stroke-width="0.8" />
<line x1="549.8" y1="61.3" x2="549.8" y2="119.7" stroke="#000" stroke-width="0.8" stroke-linecap="round" />
<ellipse cx="549.8" cy="56.3" rx="7.6" ry="4.6" fill="#fff" stroke="#000" stroke-width="1.3" />
<line x1="549.8" y1="60.9" x2="549.8" y2="65.3" stroke="#000" stroke-width="3.2" stroke-linecap="round" />
<ellipse cx="549.8" cy="71.0" rx="3.9" ry="2.3" fill="#fff" stroke="#000" stroke-width="1.6" />
<rect x="547.2" y="73.0" width="5.2" height="21.5" fill="#fff" stroke="#000" stroke-width="1.1"/>
<line x1="547.2" y1="75.0" x2="552.4" y2="76.0" stroke="#000" stroke-width="0.8" stroke-linecap="round" />
<line x1="547.2" y1="77.0" x2="552.4" y2="78.0" stroke="#000" stroke-width="0.8" stroke-linecap="round" />
<line x1="547.2" y1="79.0" x2="552.4" y2="80.0" stroke="#000" stroke-width="0.8" stroke-linecap="round" />
<line x1="547.2" y1="81.0" x2="552.4" y2="82.0" stroke="#000" stroke-width="0.8" stroke-linecap="round" />
<line x1="547.2" y1="83.0" x2="552.4" y2="84.0" stroke="#000" stroke-width="0.8" stroke-linecap="round" />
<line x1="547.2" y1="85.0" x2="552.4" y2="86.0" stroke="#000" stroke-width="0.8" stroke-linecap="round" />
<line x1="547.2" y1="87.0" x2="552.4" y2="88.0" stroke="#000" stroke-width="0.8" stroke-linecap="round" />
<line x1="547.2" y1="89.0" x2="552.4" y2="90.0" stroke="#000" stroke-width="0.8" stroke-linecap="round" />
<line x1="547.2" y1="91.0" x2="552.4" y2="92.0" stroke="#000" stroke-width="0.8" stroke-linecap="round" />
<line x1="547.2" y1="93.0" x2="552.4" y2="94.0" stroke="#000" stroke-width="0.8" stroke-linecap="round" />
<rect x="545.6" y="99.0" width="8.4" height="6.5" rx="2.5" fill="#fff" stroke="#000" stroke-width="1.3"/>
<ellipse cx="549.8" cy="100.2" rx="3.4" ry="1.6" fill="#222" stroke="#000" stroke-width="0.8" />
<rect x="173.0" y="467.0" width="4" height="29.0" fill="#fff" stroke="#000" stroke-width="1.2"/>
<line x1="173.0" y1="479.6" x2="177.0" y2="480.9" stroke="#000" stroke-width="1.1" stroke-linecap="round" />
<line x1="173.0" y1="481.9" x2="177.0" y2="483.2" stroke="#000" stroke-width="1.1" stroke-linecap="round" />
<line x1="173.0" y1="484.2" x2="177.0" y2="485.5" stroke="#000" stroke-width="1.1" stroke-linecap="round" />
<line x1="173.0" y1="486.5" x2="177.0" y2="487.8" stroke="#000" stroke-width="1.1" stroke-linecap="round" />
<line x1="173.0" y1="488.8" x2="177.0" y2="490.1" stroke="#000" stroke-width="1.1" stroke-linecap="round" />
<line x1="173.0" y1="491.1" x2="177.0" y2="492.4" stroke="#000" stroke-width="1.1" stroke-linecap="round" />
<line x1="173.0" y1="493.4" x2="177.0" y2="494.7" stroke="#000" stroke-width="1.1" stroke-linecap="round" />
<path d="M173.0,496.0 L175.0,501.0 L177.0,496.0" fill="#000" stroke="#000" stroke-width="1" stroke-linejoin="round" stroke-linecap="round" />
<ellipse cx="175.0" cy="466.5" rx="4.2" ry="2.6" fill="#fff" stroke="#000" stroke-width="1.6" />
<ellipse cx="175.0" cy="466.5" rx="2.2" ry="1.3" fill="#333" stroke="#000" stroke-width="0.6" />
<rect x="217.0" y="492.0" width="4" height="29.0" fill="#fff" stroke="#000" stroke-width="1.2"/>
<line x1="217.0" y1="504.6" x2="221.0" y2="505.9" stroke="#000" stroke-width="1.1" stroke-linecap="round" />
<line x1="217.0" y1="506.9" x2="221.0" y2="508.2" stroke="#000" stroke-width="1.1" stroke-linecap="round" />
<line x1="217.0" y1="509.2" x2="221.0" y2="510.5" stroke="#000" stroke-width="1.1" stroke-linecap="round" />
<line x1="217.0" y1="511.5" x2="221.0" y2="512.8" stroke="#000" stroke-width="1.1" stroke-linecap="round" />
<line x1="217.0" y1="513.8" x2="221.0" y2="515.1" stroke="#000" stroke-width="1.1" stroke-linecap="round" />
<line x1="217.0" y1="516.1" x2="221.0" y2="517.4" stroke="#000" stroke-width="1.1" stroke-linecap="round" />
<line x1="217.0" y1="518.4" x2="221.0" y2="519.7" stroke="#000" stroke-width="1.1" stroke-linecap="round" />
<path d="M217.0,521.0 L219.0,526.0 L221.0,521.0" fill="#000" stroke="#000" stroke-width="1" stroke-linejoin="round" stroke-linecap="round" />
<ellipse cx="219.0" cy="491.5" rx="4.2" ry="2.6" fill="#fff" stroke="#000" stroke-width="1.6" />
<ellipse cx="219.0" cy="491.5" rx="2.2" ry="1.3" fill="#333" stroke="#000" stroke-width="0.6" />
<rect x="557.2" y="245.5" width="4" height="35.5" fill="#fff" stroke="#000" stroke-width="1.2"/>
<line x1="557.2" y1="260.4" x2="561.2" y2="261.7" stroke="#000" stroke-width="1.1" stroke-linecap="round" />
<line x1="557.2" y1="262.7" x2="561.2" y2="264.0" stroke="#000" stroke-width="1.1" stroke-linecap="round" />
<line x1="557.2" y1="265.0" x2="561.2" y2="266.3" stroke="#000" stroke-width="1.1" stroke-linecap="round" />
<line x1="557.2" y1="267.3" x2="561.2" y2="268.6" stroke="#000" stroke-width="1.1" stroke-linecap="round" />
<line x1="557.2" y1="269.6" x2="561.2" y2="270.9" stroke="#000" stroke-width="1.1" stroke-linecap="round" />
<line x1="557.2" y1="271.9" x2="561.2" y2="273.2" stroke="#000" stroke-width="1.1" stroke-linecap="round" />
<line x1="557.2" y1="274.2" x2="561.2" y2="275.5" stroke="#000" stroke-width="1.1" stroke-linecap="round" />
<line x1="557.2" y1="276.5" x2="561.2" y2="277.8" stroke="#000" stroke-width="1.1" stroke-linecap="round" />
<line x1="557.2" y1="278.8" x2="561.2" y2="280.1" stroke="#000" stroke-width="1.1" stroke-linecap="round" />
<path d="M557.2,281.0 L559.2,286.0 L561.2,281.0" fill="#000" stroke="#000" stroke-width="1" stroke-linejoin="round" stroke-linecap="round" />
<ellipse cx="559.2" cy="245.0" rx="4.2" ry="2.6" fill="#fff" stroke="#000" stroke-width="1.6" />
<ellipse cx="559.2" cy="245.0" rx="2.2" ry="1.3" fill="#333" stroke="#000" stroke-width="0.6" />
<rect x="600.7" y="271.5" width="4" height="35.5" fill="#fff" stroke="#000" stroke-width="1.2"/>
<line x1="600.7" y1="286.4" x2="604.7" y2="287.7" stroke="#000" stroke-width="1.1" stroke-linecap="round" />
<line x1="600.7" y1="288.7" x2="604.7" y2="290.0" stroke="#000" stroke-width="1.1" stroke-linecap="round" />
<line x1="600.7" y1="291.0" x2="604.7" y2="292.3" stroke="#000" stroke-width="1.1" stroke-linecap="round" />
<line x1="600.7" y1="293.3" x2="604.7" y2="294.6" stroke="#000" stroke-width="1.1" stroke-linecap="round" />
<line x1="600.7" y1="295.6" x2="604.7" y2="296.9" stroke="#000" stroke-width="1.1" stroke-linecap="round" />
<line x1="600.7" y1="297.9" x2="604.7" y2="299.2" stroke="#000" stroke-width="1.1" stroke-linecap="round" />
<line x1="600.7" y1="300.2" x2="604.7" y2="301.5" stroke="#000" stroke-width="1.1" stroke-linecap="round" />
<line x1="600.7" y1="302.5" x2="604.7" y2="303.8" stroke="#000" stroke-width="1.1" stroke-linecap="round" />
<line x1="600.7" y1="304.8" x2="604.7" y2="306.1" stroke="#000" stroke-width="1.1" stroke-linecap="round" />
<path d="M600.7,307.0 L602.7,312.0 L604.7,307.0" fill="#000" stroke="#000" stroke-width="1" stroke-linejoin="round" stroke-linecap="round" />
<ellipse cx="602.7" cy="271.0" rx="4.2" ry="2.6" fill="#fff" stroke="#000" stroke-width="1.6" />
<ellipse cx="602.7" cy="271.0" rx="2.2" ry="1.3" fill="#333" stroke="#000" stroke-width="0.6" />
<polygon points="640.5,245.8 689.0,272.9 689.0,544.0 683.7,542.0 683.7,524.7 643.8,503.7 640.5,517.0" fill="#fff" stroke="#000" stroke-width="1.3" stroke-linejoin="round" />
<line x1="690.0" y1="273.5" x2="690.0" y2="545.0" stroke="#000" stroke-width="2.6" stroke-linecap="round" />
<line x1="641.0" y1="248.5" x2="689.0" y2="275.3" stroke="#000" stroke-width="1.1" stroke-linecap="round" />
<path d="M661.5,257.5 Q663.5,254 665.5,258.5 M669,262.5 Q671,258.5 673,263.5" fill="#fff" stroke="#000" stroke-width="1.3" stroke-linejoin="round" stroke-linecap="round" />
<line x1="663.6" y1="264.0" x2="663.6" y2="384.0" stroke="#000" stroke-width="2.8" stroke-linecap="round" />
<path d="M664.5,263.5 Q666.8,264.5 666.8,267 L666.8,382 Q666,387 663.6,385" fill="none" stroke="#000" stroke-width="1.0" stroke-linejoin="round" stroke-linecap="round" />
<polygon points="643.8,503.7 683.7,524.7 683.7,542.0 643.8,521.0" fill="#fff" stroke="#000" stroke-width="1.3" stroke-linejoin="round" />
<line x1="645.5" y1="506.0" x2="645.5" y2="520.0" stroke="#000" stroke-width="0.9" stroke-linecap="round" />
<polygon points="616.0,535.0 642.5,519.5 683.7,541.4 654.0,558.8" fill="#fff" stroke="#000" stroke-width="1.3" stroke-linejoin="round" />
<path d="M616,535 L616,538 L654,561.8 L683.7,544.4" fill="none" stroke="#000" stroke-width="1.2" stroke-linejoin="round" stroke-linecap="round" />
<ellipse cx="649.0" cy="517.6" rx="4.8" ry="4.8" fill="#fff" stroke="#000" stroke-width="1.4" />
<ellipse cx="649.0" cy="517.6" rx="2.6" ry="2.6" fill="#444" stroke="#000" stroke-width="0.8" />
<ellipse cx="673.4" cy="530.5" rx="4.8" ry="4.8" fill="#fff" stroke="#000" stroke-width="1.4" />
<ellipse cx="673.4" cy="530.5" rx="2.6" ry="2.6" fill="#444" stroke="#000" stroke-width="0.8" />
<ellipse cx="635.4" cy="535.0" rx="5.5" ry="2.4" fill="#fff" stroke="#000" stroke-width="1.2" transform="rotate(28 635.4 535)"/>
<ellipse cx="659.8" cy="546.0" rx="5.5" ry="2.4" fill="#fff" stroke="#000" stroke-width="1.2" transform="rotate(28 659.8 546)"/>
<g transform="translate(712.5,328.0) rotate(152)">
<path d="M6,-2.7 L12.5,-2.7 L12.5,2.7 L6,2.7 Z" fill="#fff" stroke="#000" stroke-width="1.1"/>
<path d="M8,-2.7 L8.8,2.7 M10,-2.7 L10.8,2.7 M12,-2.7 L12.5,1" fill="none" stroke="#000" stroke-width="0.9"/>
<path d="M0,-4.6 L6,-4.6 Q8,0 6,4.6 L0,4.6 Z" fill="#fff" stroke="#000" stroke-width="1.3"/>
<ellipse cx="0" cy="0" rx="2.6" ry="4.6" fill="#fff" stroke="#000" stroke-width="1.4"/>
<ellipse cx="0" cy="0" rx="1.2" ry="2.2" fill="#333" stroke="#000" stroke-width="0.6"/>
</g>
<g transform="translate(712.5,350.5) rotate(152)">
<path d="M6,-2.7 L12.5,-2.7 L12.5,2.7 L6,2.7 Z" fill="#fff" stroke="#000" stroke-width="1.1"/>
<path d="M8,-2.7 L8.8,2.7 M10,-2.7 L10.8,2.7 M12,-2.7 L12.5,1" fill="none" stroke="#000" stroke-width="0.9"/>
<path d="M0,-4.6 L6,-4.6 Q8,0 6,4.6 L0,4.6 Z" fill="#fff" stroke="#000" stroke-width="1.3"/>
<ellipse cx="0" cy="0" rx="2.6" ry="4.6" fill="#fff" stroke="#000" stroke-width="1.4"/>
<ellipse cx="0" cy="0" rx="1.2" ry="2.2" fill="#333" stroke="#000" stroke-width="0.6"/>
</g>
<line x1="228.5" y1="322.0" x2="228.5" y2="511.0" stroke="#000" stroke-width="1.0" stroke-linecap="round" stroke-dasharray="22,2.5,2,2.5"/>
<line x1="549.8" y1="175.0" x2="549.8" y2="325.0" stroke="#000" stroke-width="1.0" stroke-linecap="round" stroke-dasharray="22,2.5,2,2.5"/>
<line x1="175.0" y1="519.0" x2="175.0" y2="687.0" stroke="#000" stroke-width="1.0" stroke-linecap="round" stroke-dasharray="22,2.5,2,2.5"/>
<line x1="219.0" y1="543.0" x2="219.0" y2="712.0" stroke="#000" stroke-width="1.0" stroke-linecap="round" stroke-dasharray="22,2.5,2,2.5"/>
<line x1="534.3" y1="440.0" x2="534.3" y2="644.0" stroke="#000" stroke-width="1.0" stroke-linecap="round" stroke-dasharray="22,2.5,2,2.5"/>
<line x1="602.5" y1="322.0" x2="602.5" y2="490.0" stroke="#000" stroke-width="1.0" stroke-linecap="round" stroke-dasharray="22,2.5,2,2.5"/>
<line x1="559.2" y1="440.0" x2="559.2" y2="465.0" stroke="#000" stroke-width="1.0" stroke-linecap="round" stroke-dasharray="22,2.5,2,2.5"/>
<line x1="71.5" y1="697.5" x2="217.0" y2="612.7" stroke="#000" stroke-width="1.0" stroke-linecap="round" stroke-dasharray="22,2.5,2,2.5"/>
<line x1="71.5" y1="719.5" x2="217.0" y2="635.8" stroke="#000" stroke-width="1.0" stroke-linecap="round" stroke-dasharray="22,2.5,2,2.5"/>
<line x1="700.0" y1="334.2" x2="599.0" y2="393.7" stroke="#000" stroke-width="1.0" stroke-linecap="round" stroke-dasharray="22,2.5,2,2.5"/>
<line x1="700.0" y1="356.8" x2="599.0" y2="415.3" stroke="#000" stroke-width="1.0" stroke-linecap="round" stroke-dasharray="22,2.5,2,2.5"/>
<polygon points="352.9,647.6 379.0,629.4 394.0,618.0 407.0,611.6 417.2,608.4 430.0,601.3 441.0,599.6 455.3,604.7 460.0,612.0 362.0,672.0 354.0,672.0" fill="#fff" stroke="none" stroke-width="0" stroke-linejoin="round" />
<path d="M436.0,611.0 C437.8,610.1 443.3,606.4 447.0,605.7 C450.7,605.0 453.5,604.4 458.0,607.0 C462.5,609.6 470.2,615.4 473.9,621.2 C477.6,627.0 480.0,634.9 480.0,641.8 C480.0,648.7 477.0,656.6 473.9,662.4 C470.8,668.2 464.8,671.3 461.5,676.8 C458.2,682.3 455.3,688.1 454.3,695.3 C453.3,702.5 453.8,713.1 455.3,720.0 C456.9,726.9 459.5,731.7 463.6,736.5 C467.7,741.3 473.9,745.1 480.0,748.9 C486.1,752.7 492.9,755.4 500.0,759.2 C507.1,763.0 509.7,765.2 522.4,771.8 C535.1,778.4 561.0,792.1 576.0,798.6 C591.0,805.1 602.2,809.3 612.4,811.0 C622.6,812.7 628.8,810.6 637.0,808.9 C645.2,807.2 653.2,804.4 661.8,800.6 C670.4,796.8 679.6,791.4 688.5,786.2 C697.4,781.1 708.1,774.5 715.3,769.7 C722.5,764.9 727.7,762.5 731.8,757.4 C735.9,752.2 738.3,745.4 740.0,738.8 C741.7,732.2 743.0,725.9 742.0,718.0 C741.0,710.1 738.4,698.7 733.9,691.5 C729.4,684.3 718.4,677.8 715.3,675.0 " fill="none" stroke="#000" stroke-width="1.0" stroke-linejoin="round" stroke-linecap="round" stroke-dasharray="14,2.5,1.5,2.5"/>
<path d="M379.0,629.4 C381.5,627.5 389.3,621.0 394.0,618.0 C398.7,615.0 403.1,613.2 407.0,611.6 C410.9,610.0 413.4,610.1 417.2,608.4 C421.0,606.7 426.0,602.8 430.0,601.3 C434.0,599.8 436.8,599.0 441.0,599.6 C445.2,600.2 452.9,603.9 455.3,604.7 " fill="none" stroke="#000" stroke-width="1.1" stroke-linejoin="round" stroke-linecap="round" />
<polyline points="350.8,664.4 352.9,647.6" fill="none" stroke="#000" stroke-width="1.1" stroke-linejoin="round" stroke-linecap="round" />
<line x1="534.3" y1="560.0" x2="534.3" y2="644.0" stroke="#000" stroke-width="1.0" stroke-linecap="round" stroke-dasharray="22,2.5,2,2.5"/>
<line x1="498.0" y1="231.0" x2="498.0" y2="240.0" stroke="#000" stroke-width="0.8" stroke-linecap="round" stroke-dasharray="3,2"/>
<rect x="491.0" y="239.5" width="14" height="8" fill="#fff" stroke="#000" stroke-width="1.3"/>
<ellipse cx="498.0" cy="240.0" rx="7.0" ry="3.0" fill="#fff" stroke="#000" stroke-width="1.4" />
<ellipse cx="498.0" cy="240.0" rx="4.5" ry="1.8" fill="#fff" stroke="#000" stroke-width="1" />
<path d="M489.0,247.5 L507.0,247.5 L507.0,254.5 L489.0,254.5 Z" fill="#fff" stroke="#000" stroke-width="1.4" stroke-linejoin="round" stroke-linecap="round" />
<line x1="495.0" y1="247.5" x2="495.0" y2="254.5" stroke="#000" stroke-width="0.8" stroke-linecap="round" />
<line x1="501.0" y1="247.5" x2="501.0" y2="254.5" stroke="#000" stroke-width="0.8" stroke-linecap="round" />
<rect x="490.5" y="254.5" width="15" height="5" fill="#333" stroke="#000" stroke-width="1.2"/>
<ellipse cx="498.0" cy="269.3" rx="5.4" ry="3.2" fill="#fff" stroke="#000" stroke-width="2.4" />
<ellipse cx="498.0" cy="269.3" rx="1.6" ry="0.9" fill="#000" stroke="#000" stroke-width="0.8" />
<line x1="534.4" y1="253.0" x2="534.4" y2="260.0" stroke="#000" stroke-width="0.8" stroke-linecap="round" stroke-dasharray="3,2"/>
<rect x="527.4" y="261.5" width="14" height="8" fill="#fff" stroke="#000" stroke-width="1.3"/>
<ellipse cx="534.4" cy="262.0" rx="7.0" ry="3.0" fill="#fff" stroke="#000" stroke-width="1.4" />
<ellipse cx="534.4" cy="262.0" rx="4.5" ry="1.8" fill="#fff" stroke="#000" stroke-width="1" />
<path d="M525.4,269.5 L543.4,269.5 L543.4,276.5 L525.4,276.5 Z" fill="#fff" stroke="#000" stroke-width="1.4" stroke-linejoin="round" stroke-linecap="round" />
<line x1="531.4" y1="269.5" x2="531.4" y2="276.5" stroke="#000" stroke-width="0.8" stroke-linecap="round" />
<line x1="537.4" y1="269.5" x2="537.4" y2="276.5" stroke="#000" stroke-width="0.8" stroke-linecap="round" />
<rect x="526.9" y="276.5" width="15" height="5" fill="#333" stroke="#000" stroke-width="1.2"/>
<ellipse cx="534.4" cy="291.2" rx="6.0" ry="3.5" fill="#fff" stroke="#000" stroke-width="2.4" />
<ellipse cx="534.4" cy="291.2" rx="1.8" ry="1.0" fill="#000" stroke="#000" stroke-width="0.8" />
<rect x="493.0" y="309.0" width="11.5" height="87.0" fill="url(#hatch)" stroke="#000" stroke-width="1.4"/>
<rect x="492.2" y="298.5" width="12.5" height="11.5" fill="#fff" stroke="#000" stroke-width="1.2"/>
<line x1="495.5" y1="299.5" x2="495.5" y2="309.0" stroke="#000" stroke-width="0.8" stroke-linecap="round" />
<line x1="498.5" y1="299.5" x2="498.5" y2="309.0" stroke="#000" stroke-width="0.8" stroke-linecap="round" />
<line x1="501.5" y1="299.5" x2="501.5" y2="309.0" stroke="#000" stroke-width="0.8" stroke-linecap="round" />
<path d="M488.0,284.5 L488.0,296.5 Q498.0,301.5 508.0,296.5 L508.0,284.5 Z" fill="#fff" stroke="#000" stroke-width="1.4" stroke-linejoin="round" stroke-linecap="round" />
<ellipse cx="498.0" cy="285.0" rx="10.0" ry="4.5" fill="#fff" stroke="#000" stroke-width="1.5" />
<ellipse cx="498.0" cy="285.3" rx="7.8" ry="3.0" fill="#fff" stroke="#000" stroke-width="2.2" />
<line x1="494.7" y1="289.5" x2="494.7" y2="298.5" stroke="#000" stroke-width="0.9" stroke-linecap="round" />
<line x1="501.3" y1="289.5" x2="501.3" y2="298.5" stroke="#000" stroke-width="0.9" stroke-linecap="round" />
<rect x="529.0" y="335.0" width="11.5" height="43.0" fill="url(#hatch)" stroke="#000" stroke-width="1.4"/>
<rect x="528.2" y="321.0" width="12.5" height="14.0" fill="#fff" stroke="#000" stroke-width="1.2"/>
<line x1="531.5" y1="322.0" x2="531.5" y2="334.0" stroke="#000" stroke-width="0.8" stroke-linecap="round" />
<line x1="534.5" y1="322.0" x2="534.5" y2="334.0" stroke="#000" stroke-width="0.8" stroke-linecap="round" />
<line x1="537.5" y1="322.0" x2="537.5" y2="334.0" stroke="#000" stroke-width="0.8" stroke-linecap="round" />
<path d="M524.9,305.0 L524.9,318.0 Q534.4,323.0 543.9,318.0 L543.9,305.0 Z" fill="#fff" stroke="#000" stroke-width="1.4" stroke-linejoin="round" stroke-linecap="round" />
<ellipse cx="534.4" cy="305.5" rx="9.5" ry="4.5" fill="#fff" stroke="#000" stroke-width="1.5" />
<ellipse cx="534.4" cy="305.8" rx="7.3" ry="3.0" fill="#fff" stroke="#000" stroke-width="2.2" />
<line x1="531.2" y1="310.0" x2="531.2" y2="320.0" stroke="#000" stroke-width="0.9" stroke-linecap="round" />
<line x1="537.6" y1="310.0" x2="537.6" y2="320.0" stroke="#000" stroke-width="0.9" stroke-linecap="round" />
<line x1="498.0" y1="580.0" x2="498.0" y2="598.0" stroke="#000" stroke-width="0.9" stroke-linecap="round" stroke-dasharray="22,2.5,2,2.5"/>
<rect x="492.3" y="598.0" width="11.7" height="45.0" fill="url(#hatch)" stroke="#000" stroke-width="1.4"/>
<rect x="492.2" y="643.0" width="12.0" height="12.0" fill="#fff" stroke="#000" stroke-width="1.2"/>
<line x1="495.2" y1="644.0" x2="495.2" y2="654.0" stroke="#000" stroke-width="0.8" stroke-linecap="round" />
<line x1="498.2" y1="644.0" x2="498.2" y2="654.0" stroke="#000" stroke-width="0.8" stroke-linecap="round" />
<line x1="501.2" y1="644.0" x2="501.2" y2="654.0" stroke="#000" stroke-width="0.8" stroke-linecap="round" />
<path d="M488,655 L488,664 Q497.6,670 507.6,664 L507.6,655 Q497.6,650 488,655 Z" fill="#fff" stroke="#000" stroke-width="1.4" stroke-linejoin="round" stroke-linecap="round" />
<line x1="494.0" y1="656.0" x2="494.0" y2="667.0" stroke="#000" stroke-width="0.9" stroke-linecap="round" />
<line x1="501.0" y1="656.0" x2="501.0" y2="667.0" stroke="#000" stroke-width="0.9" stroke-linecap="round" />
<rect x="528.3" y="644.0" width="12.7" height="44.0" fill="url(#hatch)" stroke="#000" stroke-width="1.4"/>
<rect x="528.4" y="688.0" width="12.5" height="12.0" fill="#fff" stroke="#000" stroke-width="1.2"/>
<line x1="531.6" y1="689.0" x2="531.6" y2="699.0" stroke="#000" stroke-width="0.8" stroke-linecap="round" />
<line x1="534.6" y1="689.0" x2="534.6" y2="699.0" stroke="#000" stroke-width="0.8" stroke-linecap="round" />
<line x1="537.6" y1="689.0" x2="537.6" y2="699.0" stroke="#000" stroke-width="0.8" stroke-linecap="round" />
<path d="M524.7,701 L524.7,710 Q534,716 543.6,710 L543.6,701 Q534,696 524.7,701 Z" fill="#fff" stroke="#000" stroke-width="1.4" stroke-linejoin="round" stroke-linecap="round" />
<line x1="531.0" y1="702.0" x2="531.0" y2="713.0" stroke="#000" stroke-width="0.9" stroke-linecap="round" />
<line x1="538.0" y1="702.0" x2="538.0" y2="713.0" stroke="#000" stroke-width="0.9" stroke-linecap="round" />
<line x1="542.6" y1="671.2" x2="565.7" y2="671.2" stroke="#000" stroke-width="1.1" stroke-linecap="round" />
<path d="M576.9,662.8 L576.9,679.7" fill="none" stroke="#000" stroke-width="2.3" stroke-linejoin="round" stroke-linecap="round" stroke-linecap="butt"/>
<path d="M576.3,663.5 Q575,667 571.5,668" fill="none" stroke="#000" stroke-width="2.1" stroke-linejoin="round" stroke-linecap="round" />
<rect x="170.8" y="687.0" width="7.4" height="40.0" rx="3.5" fill="#fff" stroke="#000" stroke-width="1.4"/>
<ellipse cx="174.5" cy="689.0" rx="3.2" ry="1.7" fill="#fff" stroke="#000" stroke-width="1.1" />
<line x1="171.3" y1="708.0" x2="177.7" y2="706.2" stroke="#000" stroke-width="1.2" stroke-linecap="round" />
<line x1="171.3" y1="711.6" x2="177.7" y2="709.8" stroke="#000" stroke-width="1.2" stroke-linecap="round" />
<line x1="171.3" y1="715.2" x2="177.7" y2="713.4" stroke="#000" stroke-width="1.2" stroke-linecap="round" />
<line x1="171.3" y1="718.8" x2="177.7" y2="717.0" stroke="#000" stroke-width="1.2" stroke-linecap="round" />
<line x1="171.3" y1="722.4" x2="177.7" y2="720.6" stroke="#000" stroke-width="1.2" stroke-linecap="round" />
<path d="M170.8,698.2 L168.5,698.2 L170.8,703.8 Z" fill="#000" stroke="#000" stroke-width="1" stroke-linejoin="round" stroke-linecap="round" />
<path d="M178.2,703.0 L180.5,703.0 L178.2,707.8 Z" fill="#000" stroke="#000" stroke-width="1" stroke-linejoin="round" stroke-linecap="round" />
<rect x="214.8" y="712.0" width="7.4" height="40.0" rx="3.5" fill="#fff" stroke="#000" stroke-width="1.4"/>
<ellipse cx="218.5" cy="714.0" rx="3.2" ry="1.7" fill="#fff" stroke="#000" stroke-width="1.1" />
<line x1="215.3" y1="733.0" x2="221.7" y2="731.2" stroke="#000" stroke-width="1.2" stroke-linecap="round" />
<line x1="215.3" y1="736.6" x2="221.7" y2="734.8" stroke="#000" stroke-width="1.2" stroke-linecap="round" />
<line x1="215.3" y1="740.2" x2="221.7" y2="738.4" stroke="#000" stroke-width="1.2" stroke-linecap="round" />
<line x1="215.3" y1="743.8" x2="221.7" y2="742.0" stroke="#000" stroke-width="1.2" stroke-linecap="round" />
<line x1="215.3" y1="747.4" x2="221.7" y2="745.6" stroke="#000" stroke-width="1.2" stroke-linecap="round" />
<path d="M214.8,723.2 L212.5,723.2 L214.8,728.8 Z" fill="#000" stroke="#000" stroke-width="1" stroke-linejoin="round" stroke-linecap="round" />
<path d="M222.2,728.0 L224.5,728.0 L222.2,732.8 Z" fill="#000" stroke="#000" stroke-width="1" stroke-linejoin="round" stroke-linecap="round" />
<rect x="555.8" y="465.8" width="7.4" height="39.6" rx="3.5" fill="#fff" stroke="#000" stroke-width="1.4"/>
<ellipse cx="559.5" cy="467.8" rx="3.2" ry="1.7" fill="#fff" stroke="#000" stroke-width="1.1" />
<line x1="556.3" y1="486.6" x2="562.7" y2="484.8" stroke="#000" stroke-width="1.2" stroke-linecap="round" />
<line x1="556.3" y1="490.2" x2="562.7" y2="488.4" stroke="#000" stroke-width="1.2" stroke-linecap="round" />
<line x1="556.3" y1="493.8" x2="562.7" y2="492.0" stroke="#000" stroke-width="1.2" stroke-linecap="round" />
<line x1="556.3" y1="497.4" x2="562.7" y2="495.6" stroke="#000" stroke-width="1.2" stroke-linecap="round" />
<line x1="556.3" y1="501.0" x2="562.7" y2="499.2" stroke="#000" stroke-width="1.2" stroke-linecap="round" />
<path d="M555.8,476.9 L553.5,476.9 L555.8,482.4 Z" fill="#000" stroke="#000" stroke-width="1" stroke-linejoin="round" stroke-linecap="round" />
<path d="M563.2,481.6 L565.5,481.6 L563.2,486.4 Z" fill="#000" stroke="#000" stroke-width="1" stroke-linejoin="round" stroke-linecap="round" />
<rect x="599.3" y="491.5" width="7.4" height="39.1" rx="3.5" fill="#fff" stroke="#000" stroke-width="1.4"/>
<ellipse cx="603.0" cy="493.5" rx="3.2" ry="1.7" fill="#fff" stroke="#000" stroke-width="1.1" />
<line x1="599.8" y1="512.1" x2="606.2" y2="510.3" stroke="#000" stroke-width="1.2" stroke-linecap="round" />
<line x1="599.8" y1="515.7" x2="606.2" y2="513.9" stroke="#000" stroke-width="1.2" stroke-linecap="round" />
<line x1="599.8" y1="519.3" x2="606.2" y2="517.5" stroke="#000" stroke-width="1.2" stroke-linecap="round" />
<line x1="599.8" y1="522.9" x2="606.2" y2="521.1" stroke="#000" stroke-width="1.2" stroke-linecap="round" />
<line x1="599.8" y1="526.5" x2="606.2" y2="524.7" stroke="#000" stroke-width="1.2" stroke-linecap="round" />
<path d="M599.3,502.4 L597.0,502.4 L599.3,507.9 Z" fill="#000" stroke="#000" stroke-width="1" stroke-linejoin="round" stroke-linecap="round" />
<path d="M606.7,507.1 L609.0,507.1 L606.7,511.8 Z" fill="#000" stroke="#000" stroke-width="1" stroke-linejoin="round" stroke-linecap="round" />
<path d="M346,628 L347,640 Q362,651 378,640 L378.5,628 Z" fill="#fff" stroke="#000" stroke-width="1.3" stroke-linejoin="round" stroke-linecap="round" />
<path d="M347,633.5 Q362,642.0 378,633.5" fill="none" stroke="#000" stroke-width="0.8" stroke-linejoin="round" stroke-linecap="round" />
<path d="M347,636.1 Q362,644.6 378,636.1" fill="none" stroke="#000" stroke-width="0.8" stroke-linejoin="round" stroke-linecap="round" />
<path d="M347,638.7 Q362,647.2 378,638.7" fill="none" stroke="#000" stroke-width="0.8" stroke-linejoin="round" stroke-linecap="round" />
<path d="M357,641 L357,650 Q358,658 368,657 L381,651 Q385,645 381,638 L370,641 Z" fill="#fff" stroke="#000" stroke-width="1.3" stroke-linejoin="round" stroke-linecap="round" />
<path d="M372,641 Q376,646 373,654 M376,639.5 Q380,645 377,652.5 M379.5,638.5 Q383,644 381,651" fill="none" stroke="#000" stroke-width="0.9" stroke-linejoin="round" stroke-linecap="round" />
<path d="M357,645 Q362,650 369,648" fill="none" stroke="#000" stroke-width="0.9" stroke-linejoin="round" stroke-linecap="round" />
<ellipse cx="362.0" cy="626.4" rx="16.7" ry="9.7" fill="#fff" stroke="#000" stroke-width="1.3" stroke-dasharray="6,1.2"/>
<ellipse cx="362.0" cy="627.5" rx="8.4" ry="4.5" fill="#fff" stroke="#000" stroke-width="1.1" />
<line x1="358.0" y1="628.0" x2="366.0" y2="628.0" stroke="#000" stroke-width="0.8" stroke-linecap="round" />
<ellipse cx="392.5" cy="635.0" rx="8.0" ry="11.2" fill="none" stroke="#000" stroke-width="2.4" transform="rotate(-22 392.5 635)"/>
<ellipse cx="393.5" cy="634.5" rx="5.2" ry="8.3" fill="none" stroke="#000" stroke-width="0.9" transform="rotate(-22 393.5 634.5)"/>
<path d="M385,626 L390,621.5 L397,623 L396,627" fill="#fff" stroke="#000" stroke-width="1.2" stroke-linejoin="round" stroke-linecap="round" />
<path d="M402,622 L429,606 Q436,603 436,609 L436.5,620 L412,634 Q401,638 402,622 Z" fill="url(#hatch)" stroke="#000" stroke-width="1.3" stroke-linejoin="round" stroke-linecap="round" />
<path d="M405,619 L418,612 L421,628 L409,635 Z" fill="#fff" stroke="#000" stroke-width="0" stroke-linejoin="round" stroke-linecap="round" />
<ellipse cx="405.5" cy="627.0" rx="5.0" ry="7.6" fill="#fff" stroke="#000" stroke-width="1.4" transform="rotate(-15 405.5 627)"/>
<path d="M404,619.5 L428,606 M408,634.5 L436.5,620" fill="none" stroke="#000" stroke-width="1.3" stroke-linejoin="round" stroke-linecap="round" />
<path d="M548.5,591 Q550,578 560,574 L573,566 L586,572.4 Q594,580 594,590 L592.5,600 L584,612 Q578,620 571,619.5 L563,617 Q552,609 548.5,591 Z" fill="#fff" stroke="#000" stroke-width="1.5" stroke-linejoin="round" stroke-linecap="round" />
<path d="M560,574 Q568,578 572,585.5 L586,577" fill="none" stroke="#000" stroke-width="1.0" stroke-linejoin="round" stroke-linecap="round" />
<path d="M573,566 L586,572.4" fill="none" stroke="#000" stroke-width="1.0" stroke-linejoin="round" stroke-linecap="round" />
<ellipse cx="560.0" cy="598.6" rx="8.6" ry="12.4" fill="#fff" stroke="#000" stroke-width="1.4" transform="rotate(-10 560 598.6)"/>
<ellipse cx="561.5" cy="599.0" rx="6.0" ry="9.8" fill="#fff" stroke="#000" stroke-width="0.9" transform="rotate(-10 561.5 599)"/>
<ellipse cx="571.7" cy="585.5" rx="2.6" ry="2.6" fill="#fff" stroke="#000" stroke-width="1.4" />
<ellipse cx="585.6" cy="577.0" rx="2.6" ry="2.6" fill="#fff" stroke="#000" stroke-width="1.4" />
<ellipse cx="571.0" cy="617.0" rx="2.6" ry="2.6" fill="#fff" stroke="#000" stroke-width="1.4" />
<g transform="translate(575,598) rotate(25.5)">
<path d="M10,-10 L30,-10 L30,10 L10,10 Z" fill="#fff" stroke="#000" stroke-width="1.3"/>
<path d="M16,-10 Q13,0 16,10" fill="none" stroke="#000" stroke-width="1"/>
<path d="M28,-15 L50,-15 Q54,0 50,15 L28,15 Q24,0 28,-15 Z" fill="url(#vrib)" stroke="#000" stroke-width="1.4"/>
<ellipse cx="50" cy="0" rx="4" ry="15" fill="#fff" stroke="#000" stroke-width="1.2"/>
<path d="M50,-7.5 L66,-7.5 L66,7.5 L50,7.5 Z" fill="#fff" stroke="#000" stroke-width="1.3"/>
<path d="M55,-7.5 Q52,0 55,7.5 M59,-7.5 Q56,0 59,7.5 M63,-7.5 Q60,0 63,7.5" fill="none" stroke="#000" stroke-width="0.9"/>
<ellipse cx="66" cy="0" rx="3.5" ry="7.5" fill="#fff" stroke="#000" stroke-width="1.3"/>
<ellipse cx="83" cy="3" rx="5.5" ry="11" fill="none" stroke="#000" stroke-width="2.5"/>
<ellipse cx="84" cy="3" rx="3.2" ry="8.5" fill="none" stroke="#000" stroke-width="0.9"/>
<path d="M78,-7 L82,-10.5 L88,-9 L87,-5" fill="#fff" stroke="#000" stroke-width="1.2"/>
<path d="M94,1.5 L157,1.5 L157,16.5 L94,16.5 Z" fill="url(#hatch)" stroke="#000" stroke-width="1.4"/>
<ellipse cx="94" cy="9" rx="3" ry="7.5" fill="url(#hatch)" stroke="#000" stroke-width="1.3"/>
<path d="M157,1.5 L155,16.5" fill="none" stroke="#000" stroke-width="1.6"/>
</g>
<text x="444.5" y="255" font-size="12.5" fill="#000" text-anchor="start" transform="rotate(28 444.5 255)" >24mm</text>
<path d="M440.4,264.0 L463.5,277.0 Q462.3,281.2 469.3,285.1 L471.3,281.6 L467.8,279.7 Q467.7,276.8 470.2,275.3 L473.7,277.3 L475.7,273.8 Q468.7,269.9 465.7,273.1 L442.6,260.0 Q438.6,260.3 440.4,264.0 Z" fill="#fff" stroke="#000" stroke-width="1.2" stroke-linejoin="round" stroke-linecap="round" />
<line x1="478.0" y1="281.5" x2="489.0" y2="287.0" stroke="#000" stroke-width="0.9" stroke-linecap="round" stroke-dasharray="3,1.5"/>
<polygon points="489.0,287.0 482.6,286.3 484.6,282.3" fill="#000" stroke="#000" stroke-width="0.5" stroke-linejoin="round" />
<text x="519.5" y="229" font-size="12.5" fill="#000" text-anchor="start" transform="rotate(-28 519.5 229)" >24mm</text>
<path d="M550.0,220.0 L522.5,233.8 Q519.7,230.4 512.5,234.0 L514.3,237.6 L517.9,235.8 Q520.3,237.3 520.1,240.2 L516.5,242.0 L518.3,245.6 Q525.5,242.0 524.5,237.8 L552.0,224.0 Q554.0,220.5 550.0,220.0 Z" fill="#fff" stroke="#000" stroke-width="1.2" stroke-linejoin="round" stroke-linecap="round" />
<line x1="512.0" y1="242.0" x2="506.0" y2="245.5" stroke="#000" stroke-width="0.9" stroke-linecap="round" stroke-dasharray="3,1.5"/>
<polygon points="506.0,245.5 510.1,240.6 512.3,244.4" fill="#000" stroke="#000" stroke-width="0.5" stroke-linejoin="round" />
<text x="469.5" y="728.8" font-size="11" fill="#000" text-anchor="start" transform="rotate(-28 469.5 728.8)" >24mm</text>
<path d="M477.5,734.4 L503.4,721.0 Q506.4,724.6 513.5,720.9 L511.7,717.4 L508.1,719.2 Q505.7,717.7 505.9,714.8 L509.4,712.9 L507.6,709.4 Q500.5,713.1 501.7,717.6 L475.7,731.0 Q474.1,734.0 477.5,734.4 Z" fill="#fff" stroke="#000" stroke-width="1.2" stroke-linejoin="round" stroke-linecap="round" />
<line x1="511.0" y1="715.0" x2="523.0" y2="708.5" stroke="#000" stroke-width="0.9" stroke-linecap="round" stroke-dasharray="3,1.5"/>
<polygon points="523.0,708.5 518.8,713.3 516.7,709.4" fill="#000" stroke="#000" stroke-width="0.5" stroke-linejoin="round" />
<g style="mix-blend-mode:multiply"><text x="0" y="0" font-size="53" letter-spacing="0.98" fill="#dedede" transform="translate(272.1,638.7) rotate(-45.1)">beleuchtung.d</text></g>
</svg></body></html>
